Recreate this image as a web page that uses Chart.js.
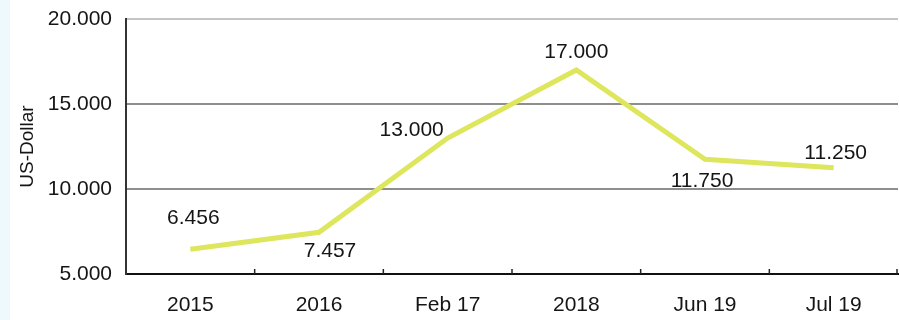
<!DOCTYPE html>
<html>
<head>
<meta charset="utf-8">
<script src="https://cdn.jsdelivr.net/npm/chart.js@4.4.0/dist/chart.umd.min.js"></script>
<style>
  html, body { margin: 0; padding: 0; background: #fff; }
  #wrap { position: relative; width: 899px; height: 320px; }
  #strip { position: absolute; left: 0; top: 0; width: 10px; height: 320px; background: #eef9fd; }
  canvas { position: absolute; left: 0; top: 0; }
</style>
</head>
<body>
<div id="wrap">
  <div id="strip"></div>
  <canvas id="chart" width="899" height="320"></canvas>
</div>
<script>
var categories = ['2015', '2016', 'Feb 17', '2018', 'Jun 19', 'Jul 19'];
var values = [6456, 7457, 13000, 17000, 11750, 11250];
var yTicks = [5000, 10000, 15000, 20000];

// where each value label sits relative to its point (dx, dy)
var labelOffsets = [[3, -31], [11, 19], [-36, -8], [0, -18], [-3, 22], [2, -15]];

var fmt = function (v) {
     return String(v).replace(/\B(?=(\d{3})+(?!\d))/g, '.');
}

var textFont = '"Liberation Sans", Arial, Helvetica, sans-serif';
var textColor = '#151515';

var extras = {
     id: 'extras',
     afterDatasetsDraw: function (chart) {
          var ctx = chart.ctx;
          var x = chart.scales.x;
          var area = chart.chartArea;
          ctx.save();
          // small inward ticks on the x axis at category boundaries
          ctx.strokeStyle = '#222';
          ctx.lineWidth = 1.5;
          for (var i = 1; i <= categories.length; i++) {
               var px = i < categories.length
                    ? (x.getPixelForValue(i - 1) + x.getPixelForValue(i)) / 2
                    : area.right - 1;
               ctx.beginPath();
               ctx.moveTo(px, area.bottom);
               ctx.lineTo(px, area.bottom - 5);
               ctx.stroke();
          }
          // value labels
          var meta = chart.getDatasetMeta(0);
          ctx.fillStyle = textColor;
          ctx.font = '21px ' + textFont;
          ctx.textAlign = 'center';
          ctx.textBaseline = 'middle';
          meta.data.forEach(function (pt, i) {
               ctx.fillText(fmt(values[i]), pt.x + labelOffsets[i][0], pt.y + labelOffsets[i][1]);
          });
          ctx.restore();
     }
}

var config = {
     type: 'line',
     data: {
          labels: categories,
          datasets: [{
               data: values,
               borderColor: '#dde65c',
               borderWidth: 5,
               pointRadius: 0,
               tension: 0,
               fill: false
          }]
     },
     options: {
          responsive: false,
          animation: false,
          layout: { padding: { top: 19, right: 1, left: 16, bottom: 0 } },
          plugins: {
               legend: { display: false },
               tooltip: { enabled: false }
          },
          scales: {
               x: {
                    offset: true,
                    grid: { display: false },
                    border: { display: true, color: '#111', width: 2 },
                    ticks: {
                         color: textColor,
                         font: { size: 21, family: textFont },
                         padding: 11,
                         maxRotation: 0
                    },
                    afterFit: function (s) {
                         s.height = 46;
                         s.paddingLeft = 0;
                         s.paddingRight = 0;
                    }
               },
               y: {
                    min: 5000,
                    max: 20000,
                    afterBuildTicks: function (s) {
                         s.ticks = yTicks.map(function (v) { return { value: v }; });
                    },
                    grid: {
                         color: function (c) {
                              if (c.tick && c.tick.value === 20000) return '#c4c4c4';
                              if (c.tick && c.tick.value === 5000) return 'rgba(0,0,0,0)';
                              return '#8e8e8e';
                         },
                         lineWidth: 2,
                         drawTicks: false
                    },
                    border: { display: true, color: '#333', width: 2 },
                    ticks: {
                         color: textColor,
                         font: { size: 21, family: textFont },
                         padding: 14,
                         callback: function (v) { return fmt(v); }
                    },
                    title: {
                         display: true,
                         text: 'US-Dollar',
                         color: textColor,
                         font: { size: 19, family: textFont },
                         padding: { top: 0, bottom: 0 }
                    },
                    afterFit: function (s) {
                         s.width = 110;
                         s.paddingTop = 0;
                         s.paddingBottom = 0;
                    }
               }
          }
     },
     plugins: [extras]
};

window.onload = function () {
     var ctx = document.getElementById('chart').getContext('2d');
     window.myLine = new Chart(ctx, config);
};
</script>
</body>
</html>
